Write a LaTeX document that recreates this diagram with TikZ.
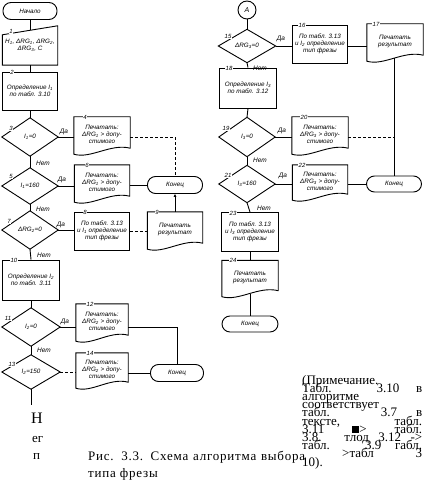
\documentclass[tikz,border=0pt]{standalone}
\usepackage{fontspec}
\setmainfont{Liberation Serif}
\newfontfamily\boxfont{Liberation Sans}
\newfontfamily\capfont[LetterSpace=6]{Liberation Serif}
\usetikzlibrary{calc,arrows.meta}
\newcommand\sub[1]{\textsubscript{#1}}
\newcommand\docline[1]{\draw[ln] (#1.north west) -- (#1.north east) -- ($(#1.south east)+(0,-3)$) .. controls ($(#1.south east)!0.35!(#1.south west)+(0,-8)$) and ($(#1.south east)!0.7!(#1.south west)+(0,8)$) .. ($(#1.south west)+(0,3)$) -- cycle;}
\newcommand\diam[1]{\draw[ln] (#1.west) -- (#1.north) -- (#1.east) -- (#1.south) -- cycle;}
\tikzset{
  ln/.style={line width=0.9pt},
  tx/.style={font=\boxfont\itshape\fontsize{6.3}{7}\selectfont, align=center, inner sep=0pt},
  box/.style={tx, draw, ln},
  term/.style={box, rounded corners=8pt},
  shp/.style={tx},
  num/.style={font=\boxfont\itshape\fontsize{6}{6}\selectfont, inner sep=0.8pt, fill=white},
  yes/.style={font=\boxfont\itshape\fontsize{6.5}{7}\selectfont, inner sep=0pt},
  big/.style={font=\fontsize{13}{13}\selectfont, inner sep=0pt, anchor=base west},
  capt/.style={font=\capfont\fontsize{13}{13}\selectfont, inner sep=0pt, anchor=base west}
}
\begin{document}
\begin{tikzpicture}[x=1pt,y=-1pt]
\fill[white] (0,0) rectangle (425,484);
\useasboundingbox (0,0) rectangle (425,484);
% ---------- left column ----------
\node[term, minimum width=54, minimum height=17] (start) at (30,11) {Начало};
\node[shp, minimum width=55, minimum height=39] (b1) at (30,45.5) {H\sub1, ΔRG\sub1, ΔRG\sub2,\\ ΔRG\sub3, C};
\draw[ln] (b1.south west) -- ($(b1.north west)+(0,9)$) -- (b1.north east) -- (b1.south east) -- cycle;
\coordinate (b1top) at ($(b1.north)+(0,4.5)$);
\node[box, minimum width=55, minimum height=38] (b2) at (30,91) {Определение I\sub1\\ по табл. 3.10};
\node[shp, minimum width=56, minimum height=38] (d3) at (30,137) {I\sub1=0};
\diam{d3}
\node[shp, minimum width=56, minimum height=34] (doc4) at (102,134) {Печатать:\\ ΔRG\sub1 > допу-\\ стимого};
\docline{doc4}
\node[shp, minimum width=56, minimum height=36] (d5) at (30,186) {I\sub1=160};
\diam{d5}
\node[shp, minimum width=55, minimum height=34] (doc6) at (102,182) {Печатать:\\ ΔRG\sub1 > допу-\\ стимого};
\docline{doc6}
\node[term, minimum width=55, minimum height=17] (end1) at (175,185) {Конец};
\node[shp, minimum width=56, minimum height=38] (d7) at (30,230) {ΔRG\sub2=0};
\diam{d7}
\node[box, minimum width=55, minimum height=38] (box8) at (102,231) {По табл. 3.13\\ и I\sub1 определение\\ тип фрезы};
\node[shp, minimum width=55, minimum height=34] (doc9) at (175,229) {Печатать\\ результат};
\docline{doc9}
\node[box, minimum width=57, minimum height=40] (box10) at (31,280) {Определение I\sub2\\ по табл. 3.11};
\node[shp, minimum width=58, minimum height=38] (d11) at (31,327) {I\sub2=0};
\diam{d11}
\node[shp, minimum width=52, minimum height=34] (doc12) at (102,321) {Печатать:\\ ΔRG\sub2 > допу-\\ стимого};
\docline{doc12}
\node[shp, minimum width=58, minimum height=34] (d13) at (31,372) {I\sub2=150};
\diam{d13}
\node[shp, minimum width=52, minimum height=32] (doc14) at (102,369) {Печатать:\\ ΔRG\sub2 > допу-\\ стимого};
\docline{doc14}
\node[term, minimum width=53, minimum height=17] (end2) at (177,373) {Конец};
\coordinate (nbot) at (31,405);
% ---------- right column ----------
\node[draw, ln, circle, minimum size=18, inner sep=0, font=\boxfont\itshape\fontsize{7}{7}\selectfont] (A) at (247,10) {А};
\node[shp, minimum width=57, minimum height=33] (d15) at (247,46) {ΔRG\sub3=0};
\diam{d15}
\node[box, minimum width=55, minimum height=38] (box16) at (320,44) {По табл. 3.13\\ и I\sub2 определение\\ тип фрезы};
\node[shp, minimum width=56, minimum height=34] (doc17) at (395,41) {Печатать\\ результат};
\docline{doc17}
\node[box, minimum width=57, minimum height=40] (box18) at (248,88) {Определение I\sub3\\ по табл. 3.12};
\node[shp, minimum width=56, minimum height=39] (d19) at (247,137) {I\sub3=0};
\diam{d19}
\node[shp, minimum width=56, minimum height=34] (doc20) at (320,134) {Печатать:\\ ΔRG\sub3 > допу-\\ стимого};
\docline{doc20}
\node[shp, minimum width=56, minimum height=37] (d21) at (247,184) {I\sub3=160};
\diam{d21}
\node[shp, minimum width=55, minimum height=32] (doc22) at (320,181) {Печатать:\\ ΔRG\sub3 > допу-\\ стимого};
\docline{doc22}
\node[term, minimum width=55, minimum height=16] (end3) at (394,184) {Конец};
\node[box, minimum width=57, minimum height=39] (box23) at (250,232) {По табл. 3.13\\ и I\sub3 определение\\ тип фрезы};
\node[shp, minimum width=56, minimum height=33] (doc24) at (250,277) {Печатать\\ результат};
\docline{doc24}
\node[term, minimum width=56, minimum height=16] (end4) at (250,324) {Конец};
% ---------- connectors ----------
\draw[ln] (start.south) -- (b1top);
\draw[ln] (b1.south) -- (b2.north);
\draw[ln] (b2.south) -- (d3.north);
\draw[ln] (d3.south) -- (d5.north);
\draw[ln] (d5.south) -- (d7.north);
\draw[ln] (d7.south) -- (box10.north);
\draw[ln] (box10.south) -- (d11.north);
\draw[ln] (d11.south) -- (d13.north);
\draw[ln] (d13.south) -- (nbot);
\draw[ln] (d3.east) -- (d3.east -| doc4.west);
\draw[ln, densely dashed] (d3.east -| doc4.east) -| (end1.north);
\draw[ln] (d5.east) -- (d5.east -| doc6.west);
\draw[ln] (doc6.east |- end1.west) -- (end1.west);
\draw[ln] (d7.east) -- (d7.east -| box8.west);
\draw[ln, densely dashed] (box8.east) -- (box8.east -| doc9.west);
\draw[ln, -{Latex[length=3pt,width=3pt]}] (doc9.north) -- (end1.south);
\draw[ln] (d11.east) -- (d11.east -| doc12.west);
\draw[ln] (d11.east -| doc12.east) -| (end2.north);
\draw[ln, densely dashed] (d13.east) -- (d13.east -| doc14.west);
\draw[ln] (end2.west -| doc14.east) -- (end2.west);
\draw[ln] (A.south) -- (d15.north);
\draw[ln] (d15.east) -- (d15.east -| box16.west);
\draw[ln] (d15.east -| box16.east) -- (d15.east -| doc17.west);
\draw[ln] (doc17.south -| end3.north) -- (end3.north);
\draw[ln] (d15.south) -- (box18.north);
\draw[ln] (box18.south) -- (d19.north);
\draw[ln] (d19.east) -- (d19.east -| doc20.west);
\draw[ln, densely dashed] (d19.east -| doc20.east) -- (d19.east -| end3.north);
\draw[ln] (d19.south) -- (d21.north);
\draw[ln] (d21.east) -- (d21.east -| doc22.west);
\draw[ln] (end3.west -| doc22.east) -- (end3.west);
\draw[ln] (d21.south) -- (box23.north);
\draw[ln] (box23.south) -- (doc24.north);
\draw[ln] (doc24.south) -- (end4.north);
% ---------- numbers ----------
\node[num] (n1) at (11,31) {1};
\node[num] (n2) at (12,72) {2};
\node[num] (n3) at (11,128) {3};
\node[num] (n4) at (85,117) {4};
\node[num] (n5) at (11,176) {5};
\node[num] (n6) at (87,165) {6};
\node[num] (n7) at (9,221) {7};
\node[num] (n8) at (85,212) {8};
\node[num] (n9) at (157,212) {9};
\node[num] (n10) at (14,260) {10};
\node[num] (n11) at (8,318) {11};
\node[num] (n12) at (90,304) {12};
\node[num] (n13) at (12,364) {13};
\node[num] (n14) at (90,353) {14};
\node[num] (n15) at (228,36) {15};
\node[num] (n16) at (302,25) {16};
\node[num] (n17) at (376,24) {17};
\node[num] (n18) at (229,68) {18};
\node[num] (n19) at (226,128) {19};
\node[num] (n20) at (304,117) {20};
\node[num] (n21) at (228,175) {21};
\node[num] (n22) at (302,165) {22};
\node[num] (n23) at (233,213) {23};
\node[num] (n24) at (233,260) {24};
% ---------- yes / no ----------
\node[yes] (y3) at (64,132) {Да};
\node[yes] (y5) at (62,180) {Да};
\node[yes] (y7) at (61,225) {Да};
\node[yes] (y11) at (65,322) {Да};
\node[yes] (y15) at (281,39) {Да};
\node[yes] (y19) at (282,131) {Да};
\node[yes] (y21) at (283,176) {Да};
\node[yes] (no3) at (43,163) {Нет};
\node[yes] (no5) at (43,209) {Нет};
\node[yes] (no7) at (44,255) {Нет};
\node[yes] (no11) at (44,350) {Нет};
\node[yes] (no15) at (260,68) {Нет};
\node[yes] (no19) at (260,160) {Нет};
\node[yes] (no21) at (264,208) {Нет};
% ---------- loose text ----------
\node[big, font=\fontsize{16}{16}\selectfont] (tH) at (31,423) {Н};
\node[big] (teg) at (32,442) {ег};
\node[big] (tn) at (33,459) {п};
\node[capt] (cap1) at (88,460) {\makebox[217pt][s]{Рис. 3.3. Схема алгоритма выбора}};
\node[capt] (cap2) at (88,477) {типа фрезы};
\node[big] (m1) at (302,384) {(Примечание.};
\node[big] (m2) at (302,392.2) {\makebox[120pt][s]{Табл. 3.10 в}};
\node[big] (m3) at (302,400.4) {алгоритме};
\node[big] (m4) at (302,408.6) {соответствует};
\node[big] (m5) at (302,416.8) {\makebox[120pt][s]{табл. 3.7 в}};
\node[big] (m6) at (302,425) {\makebox[120pt][s]{тексте, табл.}};
\node[big] (m7) at (302,433.2) {\makebox[120pt][s]{3.11 \rule{7pt}{7pt}> табл.}};
\node[big] (m8) at (302,441.4) {\makebox[120pt][s]{3.8. тлод 3.12 ->}};
\node[big] (m9) at (302,449.6) {\makebox[120pt][s]{табл. 3.9 габл.}};
\node[big] (m10) at (302,457.8) {\makebox[120pt][s]{\hspace*{40pt}>табл 3}};
\node[big] (m11) at (302,466) {10).};
\end{tikzpicture}
\end{document}
